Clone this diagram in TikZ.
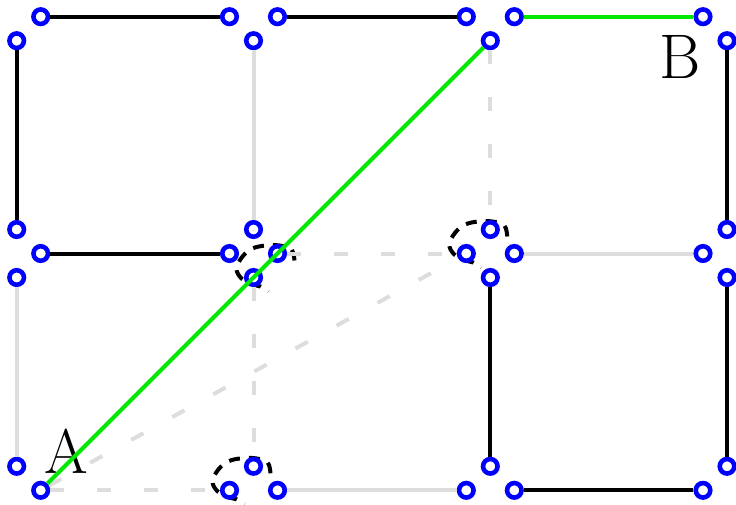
\documentclass[tikz,border=0pt]{standalone}
\usetikzlibrary{calc}
\definecolor{portblue}{RGB}{0,0,255}
\definecolor{edgegray}{RGB}{221,221,221}
\definecolor{pathgreen}{RGB}{0,232,0}
\tikzset{
  port/.style={circle, draw=portblue, fill=white, line width=4.6pt, inner sep=0pt, minimum size=14.5pt},
  blk/.style={line width=4pt, black},
  gry/.style={line width=4pt, edgegray},
  gdash/.style={line width=4pt, edgegray, dash pattern=on 14pt off 33pt},
  grn/.style={line width=4pt, pathgreen},
  lasso/.style={black, line width=4pt, dash pattern=on 11pt off 9pt},
  lbl/.style={font=\fontsize{63}{63}\selectfont, inner sep=0pt}
}
\newcommand\mylasso{\draw[lasso] plot[smooth, tension=0.6] coordinates {(17,-17) (14,-28) (2,-32) (-12,-32) (-25,-29) (-35,-21) (-41,-9) (-36,1) (-25,7) (-17,9) (-9,14)};}
\def\xa{16.7}\def\xb{253.5}\def\xc{490.3}\def\xd{727}
\def\ya{16.7}\def\yb{253.5}\def\yc{490.3}
\begin{document}
\begin{tikzpicture}[x=1pt,y=-1pt]
\useasboundingbox (0,0) rectangle (736,505);
% lassos
\begin{scope}[shift={(\xc,\yb)}]\mylasso\end{scope}
\begin{scope}[shift={(\xb,\yc)}]\mylasso\end{scope}
\begin{scope}[shift={(\xb+24,\yb+24)}]\mylasso\end{scope}
% ports row 0
\node[port] (p00r) at (\xa+24,\ya) {};
\node[port] (p00b) at (\xa,\ya+24) {};
\node[port] (p10l) at (\xb-24,\ya) {};
\node[port] (p10r) at (\xb+24,\ya) {};
\node[port] (p10b) at (\xb,\ya+24) {};
\node[port] (p20l) at (\xc-24,\ya) {};
\node[port] (p20r) at (\xc+24,\ya) {};
\node[port] (p20b) at (\xc,\ya+24) {};
\node[port] (p30l) at (\xd-24,\ya) {};
\node[port] (p30b) at (\xd,\ya+24) {};
% ports row 1
\node[port] (p01t) at (\xa,\yb-24) {};
\node[port] (p01r) at (\xa+24,\yb) {};
\node[port] (p01b) at (\xa,\yb+24) {};
\node[port] (p11t) at (\xb,\yb-24) {};
\node[port] (p11l) at (\xb-24,\yb) {};
\node[port] (p11r) at (\xb+24,\yb) {};
\node[port] (p11b) at (\xb,\yb+24) {};
\node[port] (p21t) at (\xc,\yb-24) {};
\node[port] (p21l) at (\xc-24,\yb) {};
\node[port] (p21r) at (\xc+24,\yb) {};
\node[port] (p21b) at (\xc,\yb+24) {};
\node[port] (p31t) at (\xd,\yb-24) {};
\node[port] (p31l) at (\xd-24,\yb) {};
\node[port] (p31b) at (\xd,\yb+24) {};
% ports row 2
\node[port] (p02t) at (\xa,\yc-24) {};
\node[port] (p02r) at (\xa+24,\yc) {};
\node[port] (p12t) at (\xb,\yc-24) {};
\node[port] (p12l) at (\xb-24,\yc) {};
\node[port] (p12r) at (\xb+24,\yc) {};
\node[port] (p22t) at (\xc,\yc-24) {};
\node[port] (p22l) at (\xc-24,\yc) {};
\node[port] (p22r) at (\xc+24,\yc) {};
\node[port] (p32t) at (\xd,\yc-24) {};
\node[port] (p32l) at (\xd-24,\yc) {};
% grey edges
\draw[gry] (p21r) -- (p31l);
\draw[gry] (p12r) -- (p22l);
\draw[gry] (p01b) -- (p02t);
\draw[gry] (p10b) -- (p11t);
\draw[gdash] (p11r) -- (p21l);
\draw[gdash] (p02r) -- (p12l);
\draw[gdash] (p11b) -- (p12t);
\draw[gdash] (p20b) -- (p21t);
\draw[gdash] (p02r) -- (p21l);
% black edges
\draw[blk] (p00r) -- (p10l);
\draw[blk] (p10r) -- (p20l);
\draw[blk] (p01r) -- (p11l);
\draw[blk] (p22r) -- (p32l);
\draw[blk] (p00b) -- (p01t);
\draw[blk] (p21b) -- (p22t);
\draw[blk] (p30b) -- (p31t);
\draw[blk] (p31b) -- (p32t);
% labels
\node[lbl] (la) at (66,451) {A};
\node[lbl] (lb) at (680,57) {B};
% green path
\draw[grn] (p20r) -- (p30l);
\draw[grn] (p02r) -- (p20b);
\end{tikzpicture}
\end{document}
